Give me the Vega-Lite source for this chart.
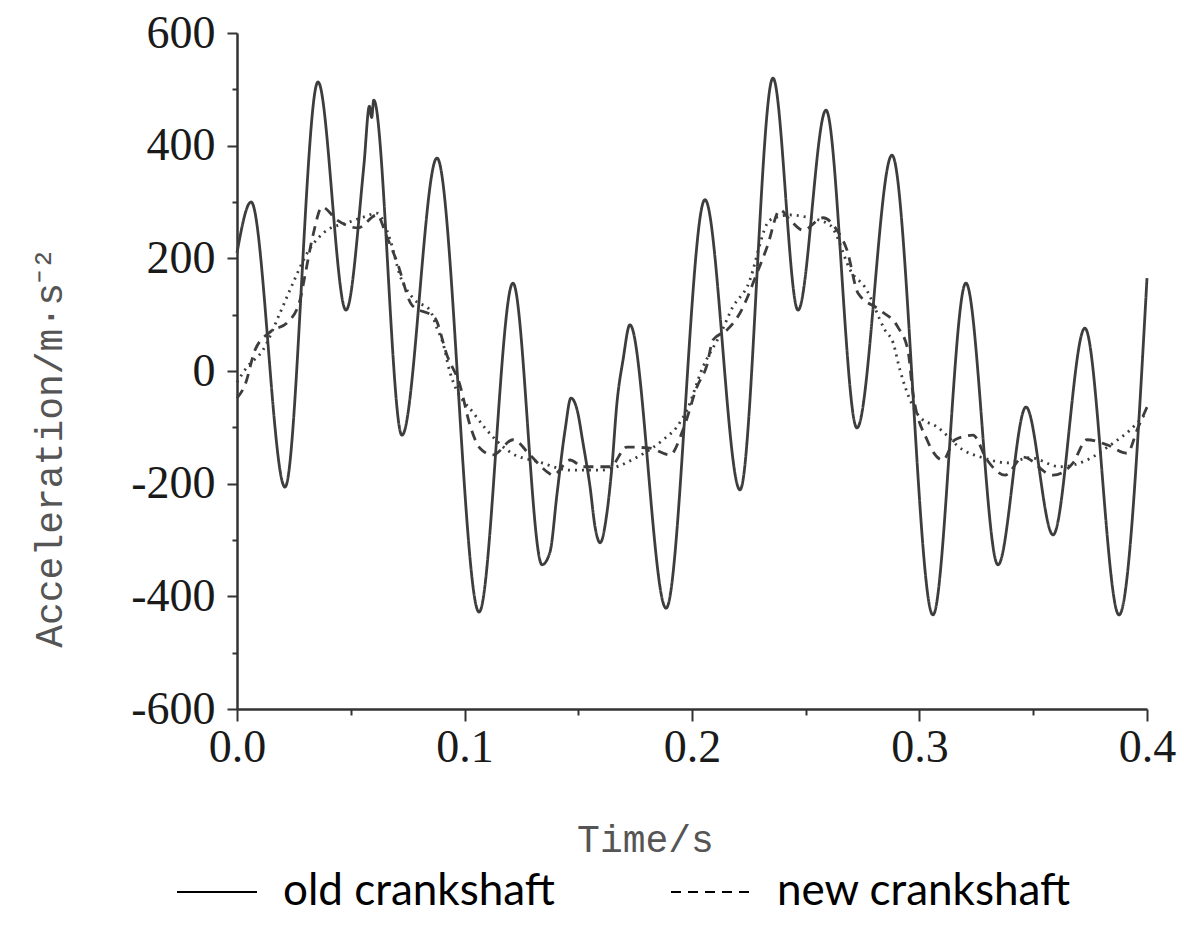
{
  "$schema": "https://vega.github.io/schema/vega-lite/v6.json",
  "width": 910,
  "height": 676,
  "autosize": {"type": "none"},
  "padding": {"left": 237, "top": 33, "right": 37, "bottom": 223},
  "background": "white",
  "config": {"view": {"stroke": null}},
  "data": {"values": [
    {"series": "old crankshaft", "time": 0, "acc": 210},
    {"series": "old crankshaft", "time": 0.0062, "acc": 300},
    {"series": "old crankshaft", "time": 0.0211, "acc": -206},
    {"series": "old crankshaft", "time": 0.0356, "acc": 513},
    {"series": "old crankshaft", "time": 0.0479, "acc": 108},
    {"series": "old crankshaft", "time": 0.0558, "acc": 366},
    {"series": "old crankshaft", "time": 0.0582, "acc": 470},
    {"series": "old crankshaft", "time": 0.0592, "acc": 450},
    {"series": "old crankshaft", "time": 0.0601, "acc": 481},
    {"series": "old crankshaft", "time": 0.0725, "acc": -114},
    {"series": "old crankshaft", "time": 0.0879, "acc": 378},
    {"series": "old crankshaft", "time": 0.1064, "acc": -428},
    {"series": "old crankshaft", "time": 0.1213, "acc": 156},
    {"series": "old crankshaft", "time": 0.1341, "acc": -344},
    {"series": "old crankshaft", "time": 0.1376, "acc": -321},
    {"series": "old crankshaft", "time": 0.1407, "acc": -217},
    {"series": "old crankshaft", "time": 0.1442, "acc": -105},
    {"series": "old crankshaft", "time": 0.1468, "acc": -48},
    {"series": "old crankshaft", "time": 0.1495, "acc": -69},
    {"series": "old crankshaft", "time": 0.1521, "acc": -128},
    {"series": "old crankshaft", "time": 0.1552, "acc": -206},
    {"series": "old crankshaft", "time": 0.1574, "acc": -277},
    {"series": "old crankshaft", "time": 0.1596, "acc": -305},
    {"series": "old crankshaft", "time": 0.1626, "acc": -252},
    {"series": "old crankshaft", "time": 0.1648, "acc": -170},
    {"series": "old crankshaft", "time": 0.167, "acc": -57},
    {"series": "old crankshaft", "time": 0.1697, "acc": 20},
    {"series": "old crankshaft", "time": 0.1727, "acc": 82},
    {"series": "old crankshaft", "time": 0.1886, "acc": -421},
    {"series": "old crankshaft", "time": 0.2057, "acc": 304},
    {"series": "old crankshaft", "time": 0.2211, "acc": -211},
    {"series": "old crankshaft", "time": 0.2356, "acc": 520},
    {"series": "old crankshaft", "time": 0.2466, "acc": 108},
    {"series": "old crankshaft", "time": 0.2589, "acc": 463},
    {"series": "old crankshaft", "time": 0.2725, "acc": -101},
    {"series": "old crankshaft", "time": 0.2879, "acc": 383},
    {"series": "old crankshaft", "time": 0.3059, "acc": -433},
    {"series": "old crankshaft", "time": 0.3204, "acc": 156},
    {"series": "old crankshaft", "time": 0.3345, "acc": -344},
    {"series": "old crankshaft", "time": 0.3468, "acc": -64},
    {"series": "old crankshaft", "time": 0.3587, "acc": -291},
    {"series": "old crankshaft", "time": 0.3727, "acc": 76},
    {"series": "old crankshaft", "time": 0.3877, "acc": -433},
    {"series": "old crankshaft", "time": 0.4, "acc": 165},

    {"series": "new crankshaft", "time": 0, "acc": -48},
    {"series": "new crankshaft", "time": 0.0035, "acc": -25},
    {"series": "new crankshaft", "time": 0.0079, "acc": 37},
    {"series": "new crankshaft", "time": 0.0145, "acc": 69},
    {"series": "new crankshaft", "time": 0.0224, "acc": 87},
    {"series": "new crankshaft", "time": 0.0277, "acc": 126},
    {"series": "new crankshaft", "time": 0.0299, "acc": 170},
    {"series": "new crankshaft", "time": 0.0334, "acc": 241},
    {"series": "new crankshaft", "time": 0.0374, "acc": 291},
    {"series": "new crankshaft", "time": 0.044, "acc": 268},
    {"series": "new crankshaft", "time": 0.0532, "acc": 254},
    {"series": "new crankshaft", "time": 0.0615, "acc": 277},
    {"series": "new crankshaft", "time": 0.0659, "acc": 238},
    {"series": "new crankshaft", "time": 0.0703, "acc": 194},
    {"series": "new crankshaft", "time": 0.0769, "acc": 117},
    {"series": "new crankshaft", "time": 0.087, "acc": 94},
    {"series": "new crankshaft", "time": 0.0923, "acc": 28},
    {"series": "new crankshaft", "time": 0.098, "acc": -25},
    {"series": "new crankshaft", "time": 0.1024, "acc": -96},
    {"series": "new crankshaft", "time": 0.1068, "acc": -137},
    {"series": "new crankshaft", "time": 0.1125, "acc": -149},
    {"series": "new crankshaft", "time": 0.1213, "acc": -122},
    {"series": "new crankshaft", "time": 0.1288, "acc": -149},
    {"series": "new crankshaft", "time": 0.1363, "acc": -179},
    {"series": "new crankshaft", "time": 0.1389, "acc": -185},
    {"series": "new crankshaft", "time": 0.1464, "acc": -158},
    {"series": "new crankshaft", "time": 0.1521, "acc": -170},
    {"series": "new crankshaft", "time": 0.164, "acc": -170},
    {"series": "new crankshaft", "time": 0.1714, "acc": -135},
    {"series": "new crankshaft", "time": 0.1815, "acc": -137},
    {"series": "new crankshaft", "time": 0.1903, "acc": -149},
    {"series": "new crankshaft", "time": 0.196, "acc": -105},
    {"series": "new crankshaft", "time": 0.2022, "acc": -28},
    {"series": "new crankshaft", "time": 0.2066, "acc": 11},
    {"series": "new crankshaft", "time": 0.2092, "acc": 55},
    {"series": "new crankshaft", "time": 0.2154, "acc": 73},
    {"series": "new crankshaft", "time": 0.2211, "acc": 103},
    {"series": "new crankshaft", "time": 0.2286, "acc": 174},
    {"series": "new crankshaft", "time": 0.233, "acc": 220},
    {"series": "new crankshaft", "time": 0.2387, "acc": 286},
    {"series": "new crankshaft", "time": 0.2431, "acc": 268},
    {"series": "new crankshaft", "time": 0.2488, "acc": 250},
    {"series": "new crankshaft", "time": 0.2576, "acc": 272},
    {"series": "new crankshaft", "time": 0.2637, "acc": 250},
    {"series": "new crankshaft", "time": 0.2681, "acc": 215},
    {"series": "new crankshaft", "time": 0.273, "acc": 138},
    {"series": "new crankshaft", "time": 0.2826, "acc": 108},
    {"series": "new crankshaft", "time": 0.2905, "acc": 78},
    {"series": "new crankshaft", "time": 0.2949, "acc": 37},
    {"series": "new crankshaft", "time": 0.2971, "acc": -39},
    {"series": "new crankshaft", "time": 0.3033, "acc": -122},
    {"series": "new crankshaft", "time": 0.3103, "acc": -158},
    {"series": "new crankshaft", "time": 0.3156, "acc": -122},
    {"series": "new crankshaft", "time": 0.3235, "acc": -114},
    {"series": "new crankshaft", "time": 0.3297, "acc": -158},
    {"series": "new crankshaft", "time": 0.3376, "acc": -185},
    {"series": "new crankshaft", "time": 0.3455, "acc": -153},
    {"series": "new crankshaft", "time": 0.3587, "acc": -185},
    {"series": "new crankshaft", "time": 0.3675, "acc": -163},
    {"series": "new crankshaft", "time": 0.3736, "acc": -122},
    {"series": "new crankshaft", "time": 0.3824, "acc": -131},
    {"series": "new crankshaft", "time": 0.3912, "acc": -146},
    {"series": "new crankshaft", "time": 0.396, "acc": -101},
    {"series": "new crankshaft", "time": 0.4, "acc": -64},

    {"series": "dotted curve", "time": 0, "acc": -20},
    {"series": "dotted curve", "time": 0.0044, "acc": 7},
    {"series": "dotted curve", "time": 0.0114, "acc": 37},
    {"series": "dotted curve", "time": 0.0189, "acc": 103},
    {"series": "dotted curve", "time": 0.0246, "acc": 156},
    {"series": "dotted curve", "time": 0.0308, "acc": 209},
    {"series": "dotted curve", "time": 0.0396, "acc": 250},
    {"series": "dotted curve", "time": 0.0484, "acc": 263},
    {"series": "dotted curve", "time": 0.0554, "acc": 273},
    {"series": "dotted curve", "time": 0.0615, "acc": 280},
    {"series": "dotted curve", "time": 0.0673, "acc": 233},
    {"series": "dotted curve", "time": 0.0716, "acc": 170},
    {"series": "dotted curve", "time": 0.0782, "acc": 126},
    {"series": "dotted curve", "time": 0.0848, "acc": 108},
    {"series": "dotted curve", "time": 0.0879, "acc": 76},
    {"series": "dotted curve", "time": 0.0905, "acc": 50},
    {"series": "dotted curve", "time": 0.0936, "acc": -2},
    {"series": "dotted curve", "time": 0.1046, "acc": -78},
    {"series": "dotted curve", "time": 0.109, "acc": -101},
    {"series": "dotted curve", "time": 0.12, "acc": -144},
    {"series": "dotted curve", "time": 0.1332, "acc": -162},
    {"series": "dotted curve", "time": 0.1464, "acc": -176},
    {"series": "dotted curve", "time": 0.1596, "acc": -176},
    {"series": "dotted curve", "time": 0.1758, "acc": -153},
    {"series": "dotted curve", "time": 0.1873, "acc": -122},
    {"series": "dotted curve", "time": 0.1934, "acc": -99},
    {"series": "dotted curve", "time": 0.1978, "acc": -69},
    {"series": "dotted curve", "time": 0.2048, "acc": 7},
    {"series": "dotted curve", "time": 0.2123, "acc": 64},
    {"series": "dotted curve", "time": 0.218, "acc": 114},
    {"series": "dotted curve", "time": 0.2242, "acc": 149},
    {"series": "dotted curve", "time": 0.2343, "acc": 268},
    {"series": "dotted curve", "time": 0.2431, "acc": 277},
    {"series": "dotted curve", "time": 0.2505, "acc": 273},
    {"series": "dotted curve", "time": 0.2607, "acc": 259},
    {"series": "dotted curve", "time": 0.2703, "acc": 174},
    {"series": "dotted curve", "time": 0.276, "acc": 149},
    {"series": "dotted curve", "time": 0.2848, "acc": 73},
    {"series": "dotted curve", "time": 0.2884, "acc": 50},
    {"series": "dotted curve", "time": 0.2914, "acc": 2},
    {"series": "dotted curve", "time": 0.3002, "acc": -82},
    {"series": "dotted curve", "time": 0.3077, "acc": -99},
    {"series": "dotted curve", "time": 0.3191, "acc": -140},
    {"series": "dotted curve", "time": 0.3279, "acc": -154},
    {"series": "dotted curve", "time": 0.3385, "acc": -163},
    {"series": "dotted curve", "time": 0.3486, "acc": -154},
    {"series": "dotted curve", "time": 0.3618, "acc": -170},
    {"series": "dotted curve", "time": 0.3736, "acc": -158},
    {"series": "dotted curve", "time": 0.3851, "acc": -128},
    {"series": "dotted curve", "time": 0.3925, "acc": -105},
    {"series": "dotted curve", "time": 0.4, "acc": -73}
  ]},
  "mark": {"type": "line", "interpolate": "monotone", "strokeWidth": 2.8, "color": "#3d3d3d"},
  "encoding": {
    "x": {
      "field": "time", "type": "quantitative",
      "scale": {"domain": [0, 0.4], "nice": false, "zero": false},
      "axis": {
        "values": [0, 0.05, 0.1, 0.15, 0.2, 0.25, 0.3, 0.35, 0.4],
        "labelExpr": "round(datum.value * 100) % 10 === 0 ? format(datum.value, '.1f') : ''",
        "labelOverlap": false, "labelFlush": false,
        "labelFont": "Liberation Serif", "labelFontSize": 46, "labelColor": "#1a1a1a",
        "labelPadding": 4,
        "tickSize": {"condition": {"test": "round(datum.value * 100) % 10 === 0", "value": 12}, "value": 6},
        "tickColor": "#333", "tickWidth": 2,
        "domainColor": "#333", "domainWidth": 2.5,
        "grid": false,
        "title": "Time/s",
        "titleFont": "Liberation Mono", "titleFontSize": 38, "titleFontWeight": "normal", "titleColor": "#555",
        "titleX": 408, "titleY": 131, "titleAlign": "center", "titleBaseline": "middle"
      }
    },
    "y": {
      "field": "acc", "type": "quantitative",
      "scale": {"domain": [-600, 600], "nice": false, "zero": false},
      "axis": {
        "values": [-600, -500, -400, -300, -200, -100, 0, 100, 200, 300, 400, 500, 600],
        "labelExpr": "datum.value % 200 === 0 ? (datum.value < 0 ? '-' + abs(datum.value) : '' + datum.value) : ''",
        "labelOverlap": false, "labelFlush": false,
        "labelFont": "Liberation Serif", "labelFontSize": 46, "labelColor": "#1a1a1a",
        "labelPadding": 12,
        "tickSize": {"condition": {"test": "datum.value % 200 === 0", "value": 10}, "value": 5},
        "tickColor": "#333", "tickWidth": 2,
        "domainColor": "#333", "domainWidth": 2.5,
        "grid": false,
        "title": "Acceleration/m·s⁻²",
        "titleFont": "Liberation Mono", "titleFontSize": 38, "titleFontWeight": "normal", "titleColor": "#555",
        "titleAngle": -90, "titleX": -187, "titleY": 414, "titleAlign": "center", "titleBaseline": "middle"
      }
    },
    "strokeDash": {
      "field": "series", "type": "nominal",
      "scale": {"domain": ["old crankshaft", "new crankshaft", "dotted curve"], "range": [[1, 0], [10, 7], [2, 5]]},
      "legend": {
        "orient": "none", "legendX": -61, "legendY": 818, "direction": "horizontal",
        "title": null, "values": ["old crankshaft", "new crankshaft"],
        "symbolType": "stroke", "symbolSize": 6400, "symbolStrokeWidth": 2, "symbolStrokeColor": "#000",
        "labelFont": "Lato", "labelFontSize": 44, "labelColor": "#000", "labelOffset": 25,
        "columnPadding": 112, "padding": 0, "labelLimit": 500
      }
    }
  }
}
